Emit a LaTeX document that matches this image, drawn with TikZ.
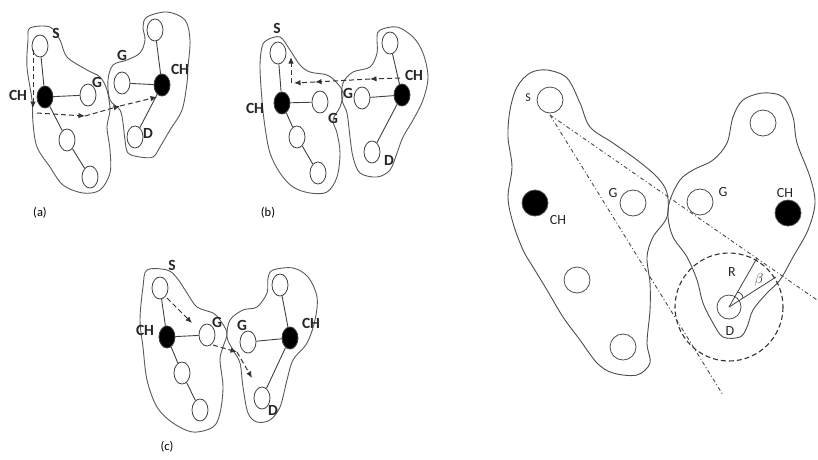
\documentclass[tikz,border=0pt]{standalone}
\usepackage{fontspec}
\setmainfont{Carlito}
\usetikzlibrary{shapes.geometric,arrows.meta}
\begin{document}
\begin{tikzpicture}[x=1pt,y=-1pt,
  outline/.style={draw=black!65, line width=0.9pt},
  sn/.style={ellipse, draw=black!75, line width=0.8pt, minimum width=16pt, minimum height=22pt, inner sep=0pt},
  bn/.style={sn, fill=black},
  lbl/.style={font=\bfseries\fontsize{15.5}{15.5}\selectfont, inner sep=0pt, text=black!85},
  captxt/.style={font=\fontsize{12.5}{12.5}\selectfont, inner sep=0pt},
  link/.style={draw=black!75, line width=0.9pt},
  darr/.style={draw=black!80, line width=1pt, dash pattern=on 5pt off 3pt, -{Latex[length=6.5pt,width=5.5pt]}},
  bc/.style={circle, draw=black!70, line width=0.8pt, minimum size=26pt, inner sep=0pt},
  bcf/.style={bc, fill=black},
  blbl/.style={font=\fontsize{14}{14}\selectfont, inner sep=0pt, text=black!85},
  dd/.style={draw=black!70, line width=0.9pt, dash pattern=on 4pt off 2.5pt on 1pt off 2.5pt},
  dcirc/.style={draw=black!80, line width=1.1pt, dash pattern=on 5pt off 3pt}]
\useasboundingbox (0,0) rectangle (818,459);

% ================= panel (a) =================
\draw[outline] plot[smooth cycle, tension=0.55] coordinates {(30,28) (50,27) (60,40) (67,57) (87,70) (100,77) (107,90) (110,110) (107,127) (110,150) (110,173) (100,190) (83,193) (63,185) (50,167) (37,147) (33,123) (32,100) (27,67) (28,40)};
\draw[outline] plot[smooth cycle, tension=0.55] coordinates {(147,17) (167,12) (185,20) (190,40) (188,67) (187,83) (182,110) (170,130) (160,147) (153,157) (140,157) (128,153) (125,140) (123,123) (120,110) (110,100) (108,80) (113,65) (127,60) (140,53) (145,40) (143,27)};
\node[sn] (aS) at (40,46) {};
\node[bn] (aCH) at (45,97) {};
\node[sn] (aG) at (88,95) {};
\node[sn] (aL1) at (67,140) {};
\node[sn] (aL2) at (90,177) {};
\node[sn] (aT) at (155,30) {};
\node[bn] (aCH2) at (162,85) {};
\node[sn] (aG2) at (122,83) {};
\node[sn] (aD) at (135,137) {};
\draw[link] (aS) -- (aCH);
\draw[link] (aCH) -- (aG);
\draw[link] (aCH) -- (aL1);
\draw[link] (aL1) -- (aL2);
\draw[link] (aT) -- (aCH2);
\draw[link] (aG2) -- (aCH2);
\draw[link] (aCH2) -- (aD);
\node[lbl] (aSl) at (56,33) {S};
\node[lbl] (aCHl) at (18,95) {CH};
\node[lbl] (aGl) at (97,82) {G};
\node[lbl] (aG2l) at (122,55) {G};
\node[lbl] (aCH2l) at (180,69) {CH};
\node[lbl] (aDl) at (148,133) {D};
\coordinate (a1) at (33,50);
\coordinate (a2) at (33,108);
\coordinate (a3) at (37,113);
\coordinate (a4) at (85,116);
\coordinate (a5) at (120,106);
\coordinate (a6) at (157,97);
\draw[darr] (a1) -- (a2);
\draw[darr] (a3) -- (a4);
\draw[darr] (a4) -- (a5);
\draw[darr] (a5) -- (a6);
\node[captxt] (capa) at (40,213) {(a)};

% ================= panel (b) =================
\draw[outline] plot[smooth cycle, tension=0.55] coordinates {(267,40) (280,37) (290,50) (300,65) (310,72) (327,75) (337,83) (343,93) (340,107) (333,120) (337,133) (340,153) (337,177) (327,192) (310,193) (293,187) (280,173) (270,153) (265,127) (262,100) (260,67) (262,47)};
\draw[outline] plot[smooth cycle, tension=0.55] coordinates {(380,30) (397,27) (413,37) (423,53) (428,77) (423,100) (413,120) (403,137) (397,153) (390,170) (377,177) (360,173) (353,157) (350,137) (347,113) (342,100) (343,83) (353,72) (370,67) (377,53) (377,37)};
\node[sn] (bS) at (278,53) {};
\node[bn] (bCH) at (282,103) {};
\node[sn] (bG) at (320,102) {};
\node[sn] (bL1) at (297,137) {};
\node[sn] (bL2) at (318,173) {};
\node[sn] (bT) at (390,43) {};
\node[bn] (bCH2) at (402,95) {};
\node[sn] (bG2) at (362,98) {};
\node[sn] (bD) at (372,152) {};
\draw[link] (bS) -- (bCH);
\draw[link] (bCH) -- (bG);
\draw[link] (bCH) -- (bL1);
\draw[link] (bL1) -- (bL2);
\draw[link] (bT) -- (bCH2);
\draw[link] (bG2) -- (bCH2);
\draw[link] (bCH2) -- (bD);
\node[lbl] (bSl) at (277,28) {S};
\node[lbl] (bCHl) at (255,108) {CH};
\node[lbl] (bGl) at (333,118) {G};
\node[lbl] (bG2l) at (348,93) {G};
\node[lbl] (bCH2l) at (414,75) {CH};
\node[lbl] (bDl) at (389,160) {D};
\coordinate (b1) at (400,78);
\coordinate (b2) at (370,79);
\coordinate (b3) at (315,82);
\coordinate (b4) at (294,83);
\coordinate (b4u) at (291,83);
\coordinate (b5) at (291,57);
\draw[darr] (b1) -- (b2);
\draw[darr] (b2) -- (b3);
\draw[darr] (b3) -- (b4);
\draw[darr] (b4u) -- (b5);
\node[captxt] (capb) at (268,213) {(b)};

% ================= panel (c) =================
\draw[outline] plot[smooth cycle, tension=0.55] coordinates {(147,270) (167,270) (177,278) (187,293) (197,307) (213,313) (220,320) (227,333) (223,347) (220,360) (223,387) (220,413) (213,427) (193,432) (173,423) (157,407) (147,380) (143,347) (140,320) (143,287)};
\draw[outline] plot[smooth cycle, tension=0.55] coordinates {(273,270) (293,268) (308,277) (317,297) (315,320) (307,343) (293,360) (287,380) (280,407) (270,420) (257,422) (248,413) (243,387) (240,363) (233,350) (227,337) (230,320) (243,310) (257,307) (267,293) (268,278)};
\node[sn] (cS) at (160,288) {};
\node[bn] (cCH) at (167,337) {};
\node[sn] (cG) at (207,335) {};
\node[sn] (cL1) at (182,373) {};
\node[sn] (cL2) at (200,410) {};
\node[sn] (cT) at (280,285) {};
\node[bn] (cCH2) at (290,338) {};
\node[sn] (cG2) at (248,342) {};
\node[sn] (cD) at (262,398) {};
\draw[link] (cS) -- (cCH);
\draw[link] (cCH) -- (cG);
\draw[link] (cCH) -- (cL1);
\draw[link] (cL1) -- (cL2);
\draw[link] (cT) -- (cCH2);
\draw[link] (cG2) -- (cCH2);
\draw[link] (cCH2) -- (cD);
\node[lbl] (cSl) at (172,265) {S};
\node[lbl] (cCHl) at (145,330) {CH};
\node[lbl] (cGl) at (217,322) {G};
\node[lbl] (cG2l) at (242,325) {G};
\node[lbl] (cCH2l) at (311,323) {CH};
\node[lbl] (cDl) at (273,410) {D};
\coordinate (c1) at (167,298);
\coordinate (c2) at (192,323);
\coordinate (c3) at (213,345);
\coordinate (c4) at (237,352);
\coordinate (c5) at (252,378);
\draw[darr] (c1) -- (c2);
\draw[darr] (c3) -- (c4);
\draw[darr] (c4) -- (c5);
\node[captxt] (capc) at (167,447) {(c)};

% ================= big panel =================
\draw[outline, draw=black!70] plot[smooth cycle, tension=0.55] coordinates {(530,73) (547,70) (567,78) (580,103) (590,127) (613,143) (637,160) (657,177) (667,193) (667,217) (653,237) (647,257) (650,283) (650,310) (647,343) (650,363) (637,375) (613,373) (597,363) (580,340) (563,317) (547,290) (533,267) (523,250) (513,223) (508,197) (512,167) (508,137) (510,110) (517,87)};
\draw[outline, draw=black!70] plot[smooth cycle, tension=0.55] coordinates {(670,200) (680,180) (693,170) (713,160) (727,143) (733,117) (743,100) (763,93) (783,97) (793,117) (797,143) (810,177) (815,203) (808,230) (793,257) (780,280) (767,293) (753,310) (747,327) (740,337) (723,337) (713,323) (703,303) (697,280) (687,257) (673,237) (668,217)};
\node[bc] (BS) at (550,100) {};
\node[bcf] (BCH) at (535,203) {};
\node[bc] (BG) at (633,203) {};
\node[bc] (BL1) at (577,280) {};
\node[bc] (BL2) at (623,347) {};
\node[bc] (BT) at (763,123) {};
\node[bc] (BG2) at (700,202) {};
\node[bcf] (BCH2) at (788,213) {};
\node[bc, minimum size=24pt] (BD) at (729,307) {};
\node[blbl, font=\fontsize{12}{12}\selectfont] (BSl) at (528,98) {S};
\node[blbl] (BCHl) at (558,220) {CH};
\node[blbl] (BGl) at (613,193) {G};
\node[blbl] (BG2l) at (723,192) {G};
\node[blbl] (BCH2l) at (785,193) {CH};
\node[blbl] (BDl) at (730,331) {D};
\node[blbl] (BRl) at (732,272) {R};
\node[blbl, font=\fontsize{15}{15}\selectfont] (BBl) at (759,280) {$\beta$};
\draw[dcirc] (BD.center) circle[radius=54];
\coordinate (ls) at (550,115);
\coordinate (le1) at (817,300);
\coordinate (le2) at (723,395);
\draw[dd] (ls) -- (le1);
\draw[dd] (ls) -- (le2);
\coordinate (Rend) at (757,258);
\coordinate (Bend) at (776,277);
\draw[link, line width=0.8pt] (BD.center) -- (Rend);
\draw[link, line width=0.8pt] (BD.center) -- (Bend);
\coordinate (arcA) at (743,298);
\coordinate (arcB) at (737,292);
\draw[link, line width=0.8pt] (arcA) to[bend right=40] (arcB);
\end{tikzpicture}
\end{document}
